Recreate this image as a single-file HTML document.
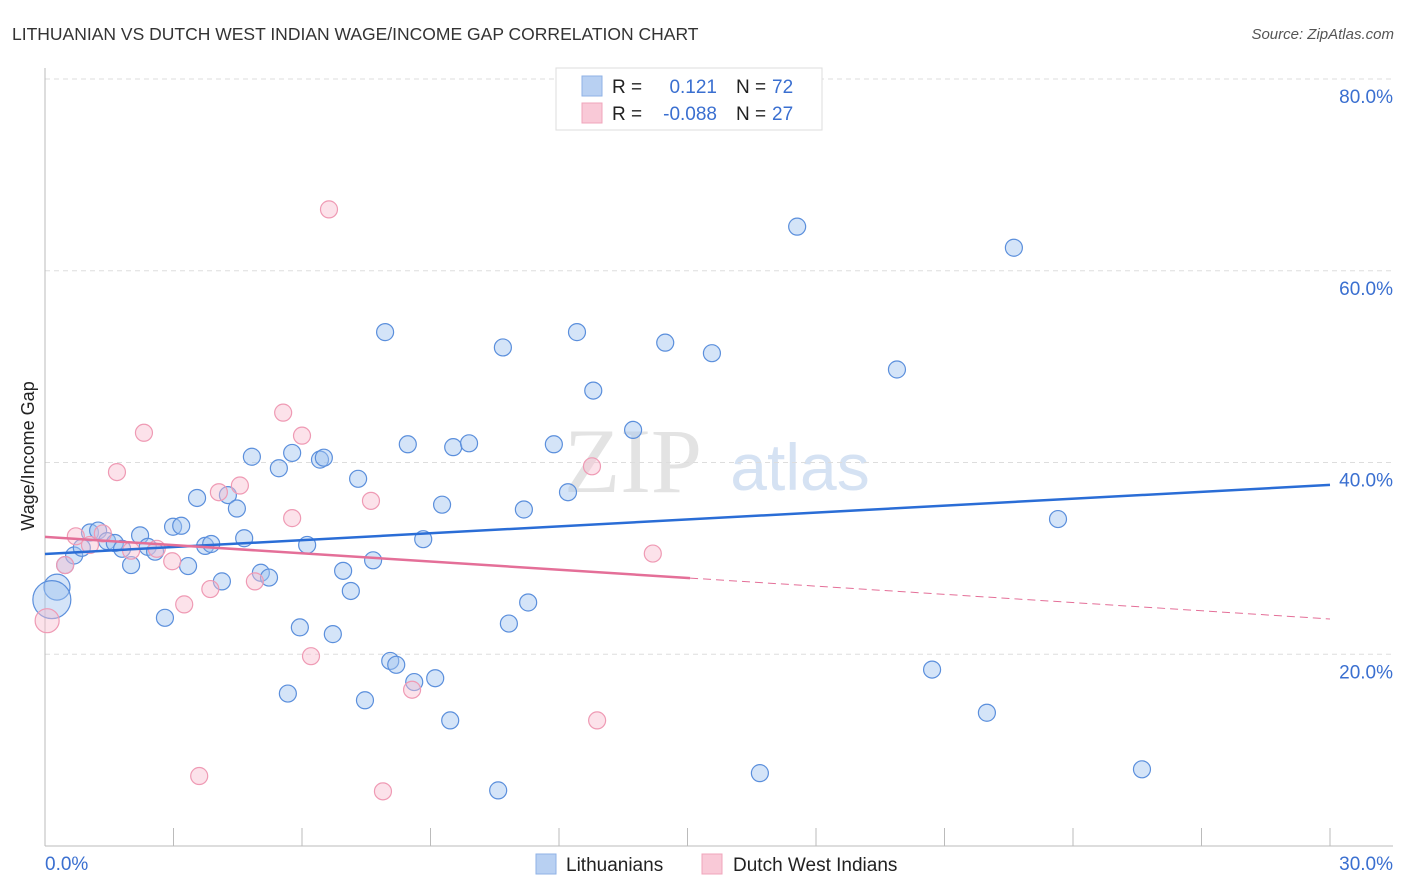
<!DOCTYPE html>
<html><head><meta charset="utf-8">
<style>
body{margin:0;background:#fff;font-family:"Liberation Sans",sans-serif;}
svg{display:block}
</style></head>
<body>
<svg id="chart" width="1406" height="892" viewBox="0 0 1406 892">
<text x="12" y="40" font-size="17.5" fill="#333">LITHUANIAN VS DUTCH WEST INDIAN WAGE/INCOME GAP CORRELATION CHART</text>
<text x="1394" y="39" font-size="15" fill="#555" font-style="italic" text-anchor="end">Source: ZipAtlas.com</text>
<g>
<text x="633" y="492" font-size="92" fill="#d8d8d8" font-family="Liberation Serif" text-anchor="middle" opacity="0.7">ZIP</text>
<text x="800" y="490" font-size="66" fill="#c4d6ee" text-anchor="middle" opacity="0.7">atlas</text>
</g>
<g id="grid"></g>
<g id="axes"></g>
<g id="marks"></g>
<text transform="translate(34,456) rotate(-90)" font-size="18" fill="#222" text-anchor="middle">Wage/Income Gap</text>
<g>
<rect x="556" y="68" width="266" height="62" fill="#fff" stroke="#ddd"/>
<rect x="582" y="76" width="20" height="20" fill="#b8d0f2" stroke="#8fb2e6"/>
<rect x="582" y="103" width="20" height="20" fill="#f9c9d7" stroke="#f0a5bb"/>
<text x="612" y="93" font-size="19" fill="#222">R =</text>
<text x="717" y="93" font-size="19" fill="#3a6fd0" text-anchor="end">0.121</text>
<text x="736" y="93" font-size="19" fill="#222">N =</text>
<text x="772" y="93" font-size="19" fill="#3a6fd0">72</text>
<text x="612" y="120" font-size="19" fill="#222">R =</text>
<text x="717" y="120" font-size="19" fill="#3a6fd0" text-anchor="end">-0.088</text>
<text x="736" y="120" font-size="19" fill="#222">N =</text>
<text x="772" y="120" font-size="19" fill="#3a6fd0">27</text>
</g>
<g>
<rect x="536" y="854" width="20" height="20" fill="#b8d0f2" stroke="#8fb2e6"/>
<text x="566" y="871" font-size="19" fill="#222">Lithuanians</text>
<rect x="702" y="854" width="20" height="20" fill="#f9c9d7" stroke="#f0a5bb"/>
<text x="733" y="871" font-size="19" fill="#222">Dutch West Indians</text>
</g>
</svg>
<script>
const yTicks=[20,40,60,80];
const yTickLabels=["20.0%","40.0%","60.0%","80.0%"];
const xTicks=[0,3,6,9,12,15,18,21,24,27,30];
const xEndLabels=["0.0%","30.0%"];
const blueX=[.47,.68,.86,1.05,1.24,1.45,1.63,1.80,2.01,2.22,2.40,2.57,2.80,2.99,3.18,3.34,3.55,3.74,3.88,4.13,4.27,4.48,4.65,4.83,5.04,5.23,5.46,5.67,5.77,5.95,6.12,6.42,6.51,6.72,6.96,7.14,7.31,7.47,7.66,7.94,8.06,8.20,8.47,8.62,8.83,9.11,9.27,9.46,9.53,9.90,10.58,10.69,10.83,11.18,11.28,11.88,12.21,12.42,12.80,13.73,14.48,15.57,16.69,17.56,19.89,20.71,21.99,22.62,23.65,25.61,.28,.16];
const blueY=[29.3,30.3,31.1,32.7,32.9,31.8,31.6,31.0,29.3,32.4,31.2,30.7,23.8,33.3,33.4,29.2,36.3,31.3,31.5,27.6,36.6,35.2,32.1,40.6,28.5,28.0,39.4,15.9,41.0,22.8,31.4,40.3,40.5,22.1,28.7,26.6,38.3,15.2,29.8,53.6,19.3,18.9,41.9,17.1,32.0,17.5,35.6,13.1,41.6,42.0,5.8,52.0,23.2,35.1,25.4,41.9,36.9,53.6,47.5,43.4,52.5,51.4,7.6,64.6,49.7,18.4,13.9,62.4,34.1,8.0,27.0,25.7];
const blueR=[8.5,8.5,8.5,8.5,8.5,8.5,8.5,8.5,8.5,8.5,8.5,8.5,8.5,8.5,8.5,8.5,8.5,8.5,8.5,8.5,8.5,8.5,8.5,8.5,8.5,8.5,8.5,8.5,8.5,8.5,8.5,8.5,8.5,8.5,8.5,8.5,8.5,8.5,8.5,8.5,8.5,8.5,8.5,8.5,8.5,8.5,8.5,8.5,8.5,8.5,8.5,8.5,8.5,8.5,8.5,8.5,8.5,8.5,8.5,8.5,8.5,8.5,8.5,8.5,8.5,8.5,8.5,8.5,8.5,8.5,13,19];
const pinkX=[.05,.47,.72,1.05,1.35,1.68,2.01,2.31,2.61,2.97,3.25,3.60,3.86,4.06,4.55,4.90,5.56,5.77,6.00,6.21,6.63,7.61,7.89,8.57,12.77,12.89,14.19];
const pinkY=[23.5,29.3,32.3,31.4,32.6,39.0,30.8,43.1,31.0,29.7,25.2,7.3,26.8,36.9,37.6,27.6,45.2,34.2,42.8,19.8,66.4,36.0,5.7,16.3,39.6,13.1,30.5];
const pinkR=[12,8.5,8.5,8.5,8.5,8.5,8.5,8.5,8.5,8.5,8.5,8.5,8.5,8.5,8.5,8.5,8.5,8.5,8.5,8.5,8.5,8.5,8.5,8.5,8.5,8.5,8.5];
const blueTrend=[30.46,37.66];
const pinkTrend=[32.24,23.68];
const pinkSolidEnd=15.06;

const NS="http://www.w3.org/2000/svg";
const X0=45,X1=1330,Y0=846,Y80=79;
const sx=v=>X0+(X1-X0)*v/30;
const sy=v=>Y0-(Y0-Y80)*v/80;
function mk(tag,attrs,parent){const e=document.createElementNS(NS,tag);for(const k in attrs)e.setAttribute(k,attrs[k]);parent.appendChild(e);return e;}
const grid=document.getElementById('grid'),axes=document.getElementById('axes'),marks=document.getElementById('marks');
yTicks.forEach((t,i)=>{
 const l=mk('line',{x1:45,x2:1393,y1:sy(t),y2:sy(t),stroke:'#ddd','stroke-dasharray':'5,4'},grid);
 
 
 const tx=mk('text',{x:1393,y:sy(t)+24,'font-size':19,fill:'#3a6fd0','text-anchor':'end'},axes);
 tx.textContent=yTickLabels[i];
 
 
});
const ax=mk('line',{x1:45,x2:45,y1:68,y2:846,stroke:'#bbb'},axes);


const bx=mk('line',{x1:45,x2:1393,y1:846,y2:846,stroke:'#bbb'},axes);


xTicks.forEach(t=>{
 const l=mk('line',{x1:sx(t),x2:sx(t),y1:828,y2:846,stroke:'#bbb'},axes);
 
 
});
const xl0=mk('text',{x:45,y:870,'font-size':19,fill:'#3a6fd0'},axes);
xl0.textContent=xEndLabels[0];


const xl1=mk('text',{x:1393,y:870,'font-size':19,fill:'#3a6fd0','text-anchor':'end'},axes);
xl1.textContent=xEndLabels[1];


blueX.forEach((v,i)=>{
 const c=mk('circle',{cx:sx(v),cy:sy(blueY[i]),r:blueR[i],fill:'rgba(160,195,240,0.45)',stroke:'#5b8fdc','stroke-width':1.2},marks);
 
 
});
pinkX.forEach((v,i)=>{
 const c=mk('circle',{cx:sx(v),cy:sy(pinkY[i]),r:pinkR[i],fill:'rgba(248,190,208,0.45)',stroke:'#ef9ab4','stroke-width':1.2},marks);
 
 
});
const pAt=x=>pinkTrend[0]+(pinkTrend[1]-pinkTrend[0])*x/30;
const bt=mk('line',{x1:sx(0),y1:sy(blueTrend[0]),x2:sx(30),y2:sy(blueTrend[1]),stroke:'#2a6dd6','stroke-width':2.5},marks);


const pt=mk('line',{x1:sx(0),y1:sy(pinkTrend[0]),x2:sx(pinkSolidEnd),y2:sy(pAt(pinkSolidEnd)),stroke:'#e46f98','stroke-width':2.5},marks);


const pd=mk('line',{x1:sx(pinkSolidEnd),y1:sy(pAt(pinkSolidEnd)),x2:sx(30),y2:sy(pinkTrend[1]),stroke:'#e46f98','stroke-width':1,'stroke-dasharray':'8,5'},marks);


</script>
</body></html>
